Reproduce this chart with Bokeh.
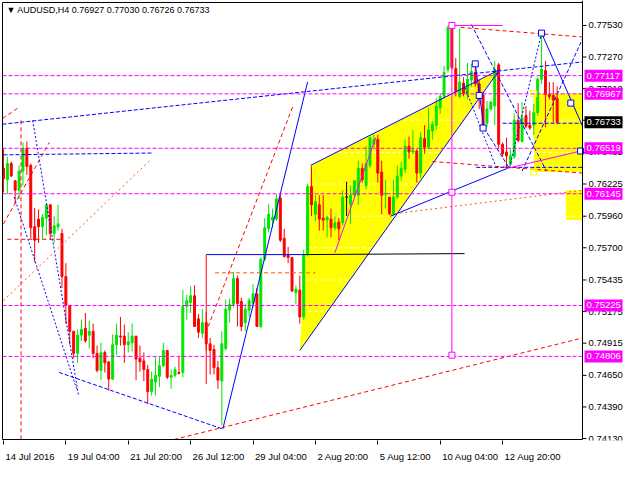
from bokeh.plotting import figure
from bokeh.models import Label, FixedTicker, LinearAxis
from bokeh.models import ColumnDataSource
from bokeh.core.properties import value
from bokeh.embed import file_html
from bokeh.resources import INLINE

FONT = "Liberation Sans"

# ---- data (AUDUSD H4 candles) ----
opens = [0.76354,0.76260,0.76394,0.76252,0.76173,0.76331,0.76520,0.76378,0.75873,0.75936,
         0.75873,0.75944,0.76054,0.75818,0.75873,0.75818,0.75463,0.75226,0.75013,0.74831,
         0.74981,0.75037,0.74981,0.75013,0.74831,0.74690,0.74839,0.74761,0.74619,0.74902,
         0.74973,0.74973,0.74902,0.74918,0.74973,0.74792,0.74769,0.74698,0.74516,0.74595,
         0.74642,0.74729,0.74855,0.74634,0.74650,0.74674,0.74674,0.75218,0.75250,0.75305,
         0.75115,0.74997,0.75084,0.74910,0.74863,0.74713,0.74603,0.74871,0.75187,0.75234,
         0.75447,0.75258,0.75084,0.75187,0.75242,0.75321,0.75052,0.75605,0.75857,0.75928,
         0.75936,0.76110,0.75778,0.75644,0.75620,0.75329,0.75352,0.75131,0.75644,0.76204,
         0.75976,0.76054,0.75944,0.75928,0.75936,0.75865,0.75912,0.75905,0.76117,0.76054,
         0.76133,0.76133,0.76354,0.76212,0.76378,0.76552,0.76591,0.76323,0.76141,0.76117,
         0.75983,0.76117,0.76291,0.76346,0.76536,0.76488,0.76496,0.76315,0.76599,0.76528,
         0.76662,0.76709,0.76851,0.76946,0.77167,0.77514,0.77175,0.76946,0.77056,0.76962,
         0.77080,0.77143,0.77049,0.76962,0.76725,0.76843,0.76867,0.77206,0.76552,0.76488,
         0.76386,0.76449,0.76749,0.76575,0.76788,0.76709,0.76709,0.76812,0.77088,0.77159,
         0.76962,0.76954,0.76927]
highs = [0.76512,0.76449,0.76409,0.76252,0.76378,0.76567,0.76575,0.76394,0.76028,0.76015,
         0.75976,0.76054,0.76054,0.75960,0.76054,0.75857,0.75573,0.75226,0.75013,0.75029,
         0.75108,0.75163,0.75100,0.75076,0.74895,0.74918,0.74855,0.74761,0.74989,0.75076,
         0.75131,0.75068,0.75005,0.75076,0.74973,0.74895,0.74839,0.74737,0.74682,0.74800,
         0.74800,0.74918,0.74855,0.74698,0.74721,0.74808,0.75352,0.75313,0.75384,0.75392,
         0.75155,0.75194,0.75171,0.74958,0.74902,0.74768,0.75013,0.75273,0.75281,0.75502,
         0.75471,0.75289,0.75242,0.75289,0.75399,0.75368,0.75620,0.75944,0.76062,0.76023,
         0.76141,0.76141,0.75857,0.75707,0.75620,0.75392,0.75471,0.75684,0.76228,0.76370,
         0.76133,0.76133,0.76133,0.75960,0.76023,0.75960,0.75944,0.76173,0.76244,0.76212,
         0.76252,0.76417,0.76394,0.76536,0.76615,0.76630,0.76630,0.76417,0.76260,0.76117,
         0.76260,0.76378,0.76409,0.76591,0.76615,0.76670,0.76512,0.76654,0.76709,0.76851,
         0.76741,0.76930,0.76970,0.77198,0.77530,0.77530,0.77262,0.77506,0.77104,0.77222,
         0.77214,0.77214,0.77080,0.76978,0.76907,0.76907,0.77238,0.77222,0.76567,0.76607,
         0.76520,0.76804,0.76891,0.76899,0.76867,0.76828,0.76883,0.77104,0.77475,0.77238,
         0.77064,0.77064,0.77030]
lows = [0.76157,0.76141,0.76283,0.76062,0.76102,0.76212,0.76299,0.75778,0.75581,0.75739,
        0.75770,0.75802,0.75763,0.75739,0.75841,0.75368,0.75076,0.74902,0.74792,0.74753,
        0.74934,0.74918,0.74871,0.74792,0.74674,0.74611,0.74674,0.74524,0.74611,0.74816,
        0.74895,0.74753,0.74839,0.74847,0.74611,0.74682,0.74603,0.74413,0.74484,0.74484,
        0.74555,0.74721,0.74619,0.74540,0.74634,0.74658,0.74634,0.75108,0.75163,0.75052,
        0.74958,0.74958,0.74855,0.74658,0.74658,0.74540,0.74240,0.74855,0.75084,0.75210,
        0.75052,0.75013,0.75013,0.75131,0.75210,0.75052,0.75037,0.75589,0.75826,0.75865,
        0.75920,0.75747,0.75620,0.75573,0.75337,0.75234,0.75076,0.75108,0.75628,0.75960,
        0.75920,0.75841,0.75841,0.75786,0.75786,0.75841,0.75763,0.75881,0.75960,0.75897,
        0.76117,0.76054,0.76236,0.76181,0.76354,0.76512,0.76236,0.75976,0.76023,0.75968,
        0.75968,0.76102,0.76252,0.76315,0.76433,0.76472,0.76236,0.76275,0.76473,0.76512,
        0.76591,0.76670,0.76804,0.76930,0.77143,0.77167,0.76946,0.76930,0.76946,0.76922,
        0.77025,0.77025,0.76843,0.76670,0.76693,0.76828,0.76709,0.76512,0.76449,0.76354,
        0.76378,0.76433,0.76567,0.76567,0.76686,0.76670,0.76630,0.76788,0.77049,0.76693,
        0.76922,0.76733,0.76726]
closes = [0.76267,0.76394,0.76291,0.76173,0.76331,0.76512,0.76370,0.75865,0.75763,0.75873,
          0.75952,0.76054,0.75818,0.75881,0.75897,0.75463,0.75226,0.75013,0.74831,0.74981,
          0.75029,0.74934,0.75013,0.74831,0.74690,0.74839,0.74753,0.74619,0.74902,0.74981,
          0.74966,0.74902,0.74926,0.74973,0.74784,0.74761,0.74698,0.74516,0.74619,0.74650,
          0.74729,0.74855,0.74634,0.74650,0.74698,0.74666,0.75218,0.75265,0.75305,0.75052,
          0.75005,0.75084,0.74910,0.74855,0.74713,0.74611,0.74910,0.75194,0.75234,0.75447,
          0.75242,0.75052,0.75194,0.75265,0.75321,0.75052,0.75605,0.75865,0.75976,0.75952,
          0.76102,0.75763,0.75628,0.75620,0.75344,0.75360,0.75131,0.75644,0.76204,0.76054,
          0.76078,0.75936,0.75928,0.75952,0.75865,0.75905,0.75857,0.76117,0.76117,0.76133,
          0.76252,0.76354,0.76260,0.76394,0.76607,0.76591,0.76315,0.76133,0.76149,0.75983,
          0.76117,0.76291,0.76354,0.76536,0.76488,0.76504,0.76315,0.76607,0.76528,0.76670,
          0.76717,0.76867,0.76946,0.77143,0.77514,0.77183,0.76986,0.77064,0.76970,0.77088,
          0.77151,0.77049,0.76946,0.76709,0.76843,0.76899,0.77167,0.76552,0.76473,0.76457,
          0.76457,0.76749,0.76583,0.76772,0.76701,0.76686,0.76812,0.77088,0.77167,0.76962,
          0.76946,0.76915,0.76733]

time_ticks = [0, 16, 32, 48, 64, 80, 96, 112, 128]
time_labels = ["14 Jul 2016", "19 Jul 04:00", "21 Jul 20:00", "26 Jul 12:00", "29 Jul 04:00",
               "2 Aug 20:00", "5 Aug 12:00", "10 Aug 04:00", "12 Aug 20:00"]
price_ticks = [0.77530, 0.77270, 0.77010, 0.76750, 0.76485, 0.76225, 0.75960, 0.75700,
               0.75435, 0.75175, 0.74915, 0.74650, 0.74390, 0.74130]
levels = [0.77117, 0.76967, 0.76519, 0.76145, 0.75225, 0.74806]
last_price = 0.76733
title_text = "\u25bc AUDUSD,H4  0.76927 0.77030 0.76726 0.76733"

# chart area in data units (bars, price)
X0, X1 = -0.25, 148.5
Y0, Y1 = 0.74122, 0.77719

W, H = 624, 464
BOTTOM = 22
FS = "9.5px"
PPB = 580.0 / (X1 - X0)               # pixels per bar
PPY = (H - BOTTOM - 3) / (Y1 - Y0)     # pixels per price unit
XS, XE = X0 - 2 / PPB, X1 + 42 / PPB
YS, YE = Y0 - 1 / PPY, Y1 + 2 / PPY

p = figure(width=W, height=H, x_range=(XS, XE), y_range=(YS, YE),
           output_backend="svg", toolbar_location=None,
           min_border_left=0, min_border_right=0, min_border_top=0, min_border_bottom=BOTTOM)
p.yaxis.visible = False
p.grid.visible = False
p.outline_line_color = None
p.background_fill_color = "white"
p.border_fill_color = "white"

# time axis: tick marks on one axis, left-aligned labels on a second one below it
xa = p.xaxis[0]
xa.ticker = FixedTicker(ticks=time_ticks)
xa.major_label_overrides = {t: "" for t in time_ticks}
xa.major_label_text_font_size = "1px"
xa.major_label_standoff = 0
xa.minor_tick_line_color = None
xa.major_tick_in = 0
xa.major_tick_out = 4
xa.major_tick_line_color = "black"
xa.axis_line_color = None

CW = {"0": 5.28, "1": 5.28, "2": 5.28, "3": 5.28, "4": 5.28, "5": 5.28, "6": 5.28, "7": 5.28,
      "8": 5.28, "9": 5.28, " ": 2.64, ":": 2.64, "J": 4.75, "u": 5.28, "l": 2.11, "A": 6.34,
      "g": 5.28}
def text_w(s):
    return sum(CW.get(ch, 5.28) for ch in s)
label_pos = [round(t + (2.0 + text_w(s) / 2.0) / PPB, 3) for t, s in zip(time_ticks, time_labels)]
xa2 = LinearAxis(ticker=FixedTicker(ticks=label_pos),
                 major_label_overrides={lp: s for lp, s in zip(label_pos, time_labels)},
                 major_tick_line_color=None, minor_tick_line_color=None, axis_line_color=None,
                 major_label_standoff=0, major_label_text_font=FONT,
                 major_label_text_font_size=FS, major_label_text_color="black")
p.add_layout(xa2, "below")

# ---- background filled objects ----
p.patch([78.75, 76.0, 127.25], [0.76378, 0.74855, 0.77167], fill_color="#ffff00", line_color=None)
p.quad(left=[136.0, 144.25], right=[X1, X1], top=[0.76970, 0.76173],
       bottom=[0.76323, 0.75928], fill_color="#ffff00", line_color=None)

# grid (white, only visible over the filled objects)
p.segment(x0=[X0] * len(price_ticks), x1=[X1] * len(price_ticks), y0=price_ticks, y1=price_ticks,
          line_color="white", line_dash="3 3", line_width=1)

# ---- candles ----
colors = []
for o, c in zip(opens, closes):
    colors.append("#00e600" if c > o else ("#ff0000" if c < o else "black"))
src = ColumnDataSource(dict(
    x=list(range(len(opens))),
    top=[max(o, c) for o, c in zip(opens, closes)],
    bottom=[min(o, c) for o, c in zip(opens, closes)],
    high=highs, low=lows, color=colors))
p.segment(x0="x", y0="low", x1="x", y1="high", line_color="color", line_width=1, source=src)
p.vbar(x="x", width=0.5, top="top", bottom="bottom", fill_color="color", line_color="color",
       line_width=1, source=src)

# ---- drawing objects ----
BL, RD, OR, MG = "#0000ff", "#ff0000", "#ff5a00", "#ff00ff"
objects = [
    # x0, y0, x1, y1, color, dash
    (X0, 0.76717, X1, 0.77230, BL, "4 2"),
    (0.0, 0.76465, 38.5, 0.76480, BL, "4 2"),
    (14.25, 0.74674, 56.25, 0.74208, BL, "4 2"),
    (128.0, 0.76725, X1, 0.76725, BL, "4 2"),
    (121.25, 0.76362, X1, 0.76362, BL, "4 2"),
    (120.0, 0.77538, 139.25, 0.76331, BL, "4 2"),
    (133.0, 0.76331, 148.5, 0.77419, BL, "4 2"),
    (123.25, 0.76686, 129.75, 0.76354, BL, "4 2"),
    (7.5, 0.76749, 19.25, 0.74484, BL, "2 2"),
    (2.75, 0.76118, 18.75, 0.74540, BL, "2 2"),
    (138.0, 0.77467, 129.75, 0.76354, BL, "2 2"),
    (118.0, 0.77049, 126.25, 0.76370, BL, "2 2"),
    (56.25, 0.74208, 78.0, 0.77064, BL, "solid"),
    (52.0, 0.75644, 77.25, 0.75644, BL, "solid"),
    (78.75, 0.76378, 127.25, 0.77167, BL, "solid"),
    (76.0, 0.74855, 127.25, 0.77167, BL, "solid"),
    (99.25, 0.75960, 129.25, 0.76354, BL, "solid"),
    (138.0, 0.77467, 148.5, 0.76701, BL, "solid"),
    (121.0, 0.77214, 123.25, 0.76686, BL, "solid"),
    (77.25, 0.75644, 118.25, 0.75652, "black", "solid"),
    (52.0, 0.75644, 52.0, 0.74579, RD, "solid"),
    (52.5, 0.75052, 74.25, 0.76867, RD, "4 3"),
    (43.75, 0.74122, 148.5, 0.74958, RD, "4 3"),
    (117.25, 0.77514, 148.5, 0.77435, RD, "4 3"),
    (110.0, 0.76410, 148.5, 0.76315, RD, "4 3"),
    (X0, 0.76765, 3.75, 0.76851, RD, "4 3"),
    (0.0, 0.75897, 11.75, 0.76567, RD, "4 3"),
    (1.0, 0.75770, 15.0, 0.75770, RD, "4 3"),
    (4.5, 0.76749, 4.5, 0.74122, RD, "4 3"),
    (99.25, 0.75976, 148.5, 0.76173, OR, "2 3"),
    (0.0, 0.75265, 38.0, 0.76433, OR, "2 3"),
    (54.25, 0.75494, 80.0, 0.75494, OR, "4 3"),
    (129.25, 0.76354, 148.0, 0.76496, MG, "solid"),
    (85.0, 0.75660, 95.5, 0.76607, MG, "solid"),
    (115.0, 0.77530, 115.0, 0.74816, MG, "solid"),
    (115.0, 0.77530, 128.0, 0.77530, MG, "solid"),
]
for x0, y0, x1, y1, col, dash in objects:
    p.line([x0, x1], [y0, y1], line_color=col, line_dash=dash, line_width=1)

# horizontal levels
p.segment(x0=[X0] * len(levels), x1=[X1] * len(levels), y0=levels, y1=levels,
          line_color=MG, line_dash="4 2", line_width=1)

# anchor squares
p.scatter([115.0, 115.0, 115.0], [0.77530, 0.76157, 0.74816], marker="square", size=6,
          fill_color="white", line_color=MG)
p.scatter([121.0, 122.0, 123.0, 138.0, 145.5, 148.0],
          [0.77214, 0.76954, 0.76686, 0.77467, 0.76891, 0.76496], marker="square", size=6,
          fill_color="white", line_color=BL)
p.scatter([136.0, 136.0], [0.76970, 0.76323], marker="square", size=6,
          fill_color=None, line_color="#ffff00")

# ---- chart frame (left, top, bottom border and the price scale line) ----
p.line([X0, X0], [Y0, Y1], line_color="black", line_width=1)
p.line([X0, X1], [Y1, Y1], line_color="black", line_width=1)
p.line([X0, X1], [Y0, Y0], line_color="black", line_width=1)
p.line([X1, X1], [Y0, YE], line_color="black", line_width=1)

# ---- price scale on the right ----
p.segment(x0=[X1] * len(price_ticks), x1=[X1 + 4 / PPB] * len(price_ticks),
          y0=price_ticks, y1=price_ticks, line_color="black", line_width=1)
p.text(x=[X1 + 6 / PPB] * len(price_ticks), y=price_ticks,
       text=["%.5f" % v for v in price_ticks], text_font=value(FONT),
       text_font_size=value(FS), text_color="black", text_align="left",
       text_baseline="middle")

box_y = levels + [last_price]
box_c = [MG] * len(levels) + ["black"]
p.rect(x=[X1 + 21 / PPB] * len(box_y), y=box_y, width=38, height=12,
       width_units="screen", height_units="screen", fill_color=box_c, line_color=None)
p.text(x=[X1 + 4 / PPB] * len(box_y), y=box_y, text=["%.5f" % v for v in box_y],
       text_font=value(FONT), text_font_size=value(FS), text_color="white",
       text_align="left", text_baseline="middle")

# ---- title ----
p.add_layout(Label(x=X0 + 1.0, y=Y1, y_offset=-3, text=title_text, text_font=FONT,
                   text_font_size="9px", text_color="black", text_baseline="top",
                   text_align="left"))

open("out.html", "w").write(file_html(p, INLINE))
